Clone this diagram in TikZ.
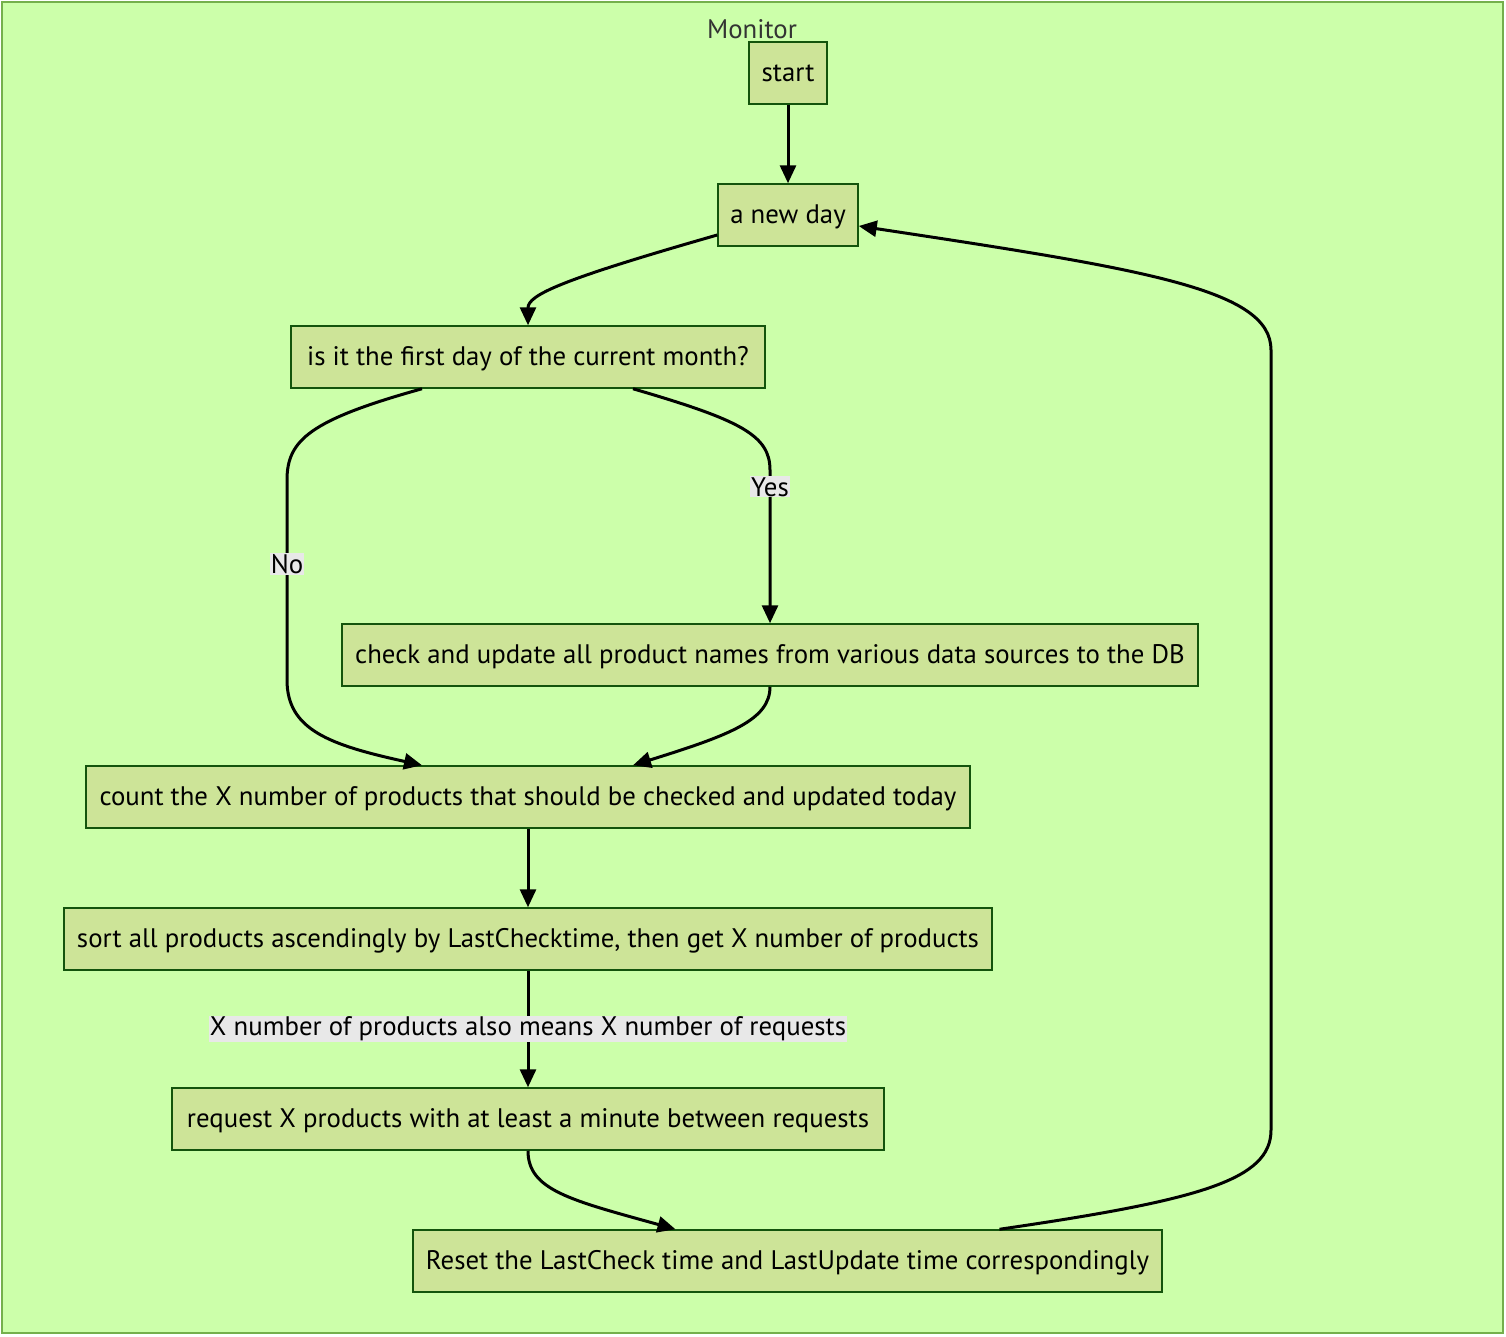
\documentclass[tikz,border=0pt]{standalone}
\usepackage{fontspec}
\setmainfont{PT Sans}
\usetikzlibrary{arrows.meta}
\definecolor{clusterbg}{HTML}{CCFFAA}
\definecolor{clusterline}{HTML}{74B04C}
\definecolor{boxfill}{HTML}{CDE498}
\definecolor{boxline}{HTML}{13540C}
\definecolor{labelbg}{HTML}{E8E8E8}
\definecolor{titletext}{HTML}{333333}
\tikzset{
  flowbox/.style={draw=boxline, fill=boxfill, line width=1.5pt, minimum height=62pt,
    inner xsep=12pt, inner ysep=0pt, text height=18pt, text depth=2pt,
    font=\fontsize{26.8}{30}\selectfont, text=black},
  edge/.style={line width=3pt, -{Triangle[length=18pt,width=16pt]}},
  edgelabel/.style={fill=labelbg, inner sep=1pt, font=\fontsize{26.8}{30}\selectfont, text=black}
}
\begin{document}
\begin{tikzpicture}[x=1pt,y=-1pt]
  \useasboundingbox (0,0) rectangle (1506,1336);
  % cluster frame
  \draw[fill=clusterbg, draw=clusterline, line width=1.5pt] (2,2) rectangle (1503,1333);
  \node[font=\fontsize{26.8}{30}\selectfont, text=titletext] (title) at (752,29) {Monitor};

  % steps
  \node[flowbox, minimum width=78pt] (start) at (788,73) {start};
  \node[flowbox, minimum width=140pt] (newday) at (788,215) {a new day};
  \node[flowbox, minimum width=474pt] (first) at (528,357) {is it the first day of the current month?};
  \node[flowbox, minimum width=856pt] (names) at (770,655) {check and update all product names from various data sources to the DB};
  \node[flowbox, minimum width=884pt] (count) at (528,797) {count the X number of products that should be checked and updated today};
  \node[flowbox, minimum width=928pt] (sort) at (528,939) {sort all products ascendingly by LastChecktime, then get X number of products};
  \node[flowbox, minimum width=712pt] (request) at (528,1119) {request X products with at least a minute between requests};
  \node[flowbox, minimum width=749pt] (reset) at (787.5,1261) {Reset the LastCheck time and LastUpdate time correspondingly};

  % connectors
  \draw[edge] (start.south) -- (newday.north);
  \draw[edge] ([yshift=-20pt]newday.west) .. controls (560,280) and (528,295) .. (first.north);
  \draw[edge] ([xshift=105pt]first.south) .. controls (740,420) and (770,435) .. (770,470)
    -- node[edgelabel, pos=0.11] (yes) {Yes} (names.north);
  \draw[edge] ([xshift=-106pt]first.south) .. controls (310,420) and (287,440) .. (287,480)
    -- node[edgelabel, pos=0.42] (no) {No} (287,680)
    .. controls (287,730) and (330,745) .. ([xshift=-106pt]count.north);
  \draw[edge] (names.south) .. controls (770,720) and (730,735) .. ([xshift=105pt]count.north);
  \draw[edge] (count.south) -- (sort.north);
  \draw[edge] (sort.south) -- node[edgelabel, pos=0.5] (xlabel) {X number of products also means X number of requests} (request.north);
  \draw[edge] (request.south) .. controls (528,1190) and (570,1200) .. ([xshift=-112pt]reset.north);
  \draw[edge] ([xshift=212pt]reset.north) .. controls (1200,1200) and (1271,1180) .. (1271,1130)
    -- (1271,350) .. controls (1271,290) and (1150,270) .. ([yshift=-11pt]newday.east);
\end{tikzpicture}
\end{document}
